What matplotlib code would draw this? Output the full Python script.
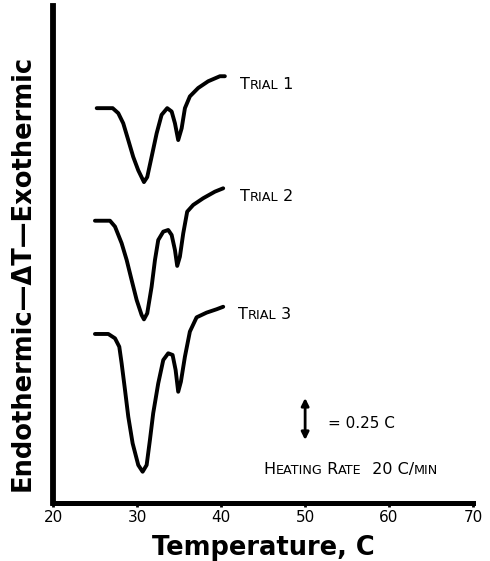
import matplotlib
matplotlib.use("Agg")
import matplotlib.pyplot as plt
from matplotlib import font_manager

# ---------------- data ----------------
trial1_temp = [25.17, 27.07, 27.74, 28.33, 28.93, 29.52, 30.12, 30.80, 31.19, 31.71, 32.31,
               32.90, 33.57, 34.10, 34.49, 34.88, 35.29, 35.68, 36.27, 37.26, 38.45, 39.85, 40.44]
trial1_dt = [2.35, 2.35, 2.32, 2.26, 2.16, 2.06, 1.98, 1.91, 1.94, 2.06, 2.20,
             2.31, 2.35, 2.33, 2.26, 2.16, 2.23, 2.35, 2.42, 2.47, 2.51, 2.54, 2.54]

trial2_temp = [24.96, 26.75, 27.35, 28.14, 28.74, 29.33, 29.93, 30.52, 30.80, 31.19, 31.71, 32.11,
               32.50, 33.10, 33.69, 34.10, 34.49, 34.76, 35.08, 35.48, 35.95, 36.67, 37.86, 39.25, 40.24]
trial2_dt = [1.68, 1.68, 1.645, 1.546, 1.446, 1.327, 1.208, 1.119, 1.093, 1.129, 1.287, 1.446,
             1.565, 1.615, 1.625, 1.595, 1.506, 1.411, 1.466, 1.605, 1.734, 1.774, 1.814, 1.853, 1.873]

trial3_temp = [24.96, 26.55, 27.35, 27.86, 28.14, 28.54, 28.93, 29.45, 30.12, 30.64, 31.12, 31.51,
               31.90, 32.50, 33.10, 33.69, 34.21, 34.57, 34.88, 35.20, 35.68, 36.27, 37.07, 38.26,
               39.45, 40.24]
trial3_dt = [1.006, 1.006, 0.980, 0.930, 0.831, 0.673, 0.514, 0.355, 0.226, 0.186, 0.226, 0.375,
             0.534, 0.712, 0.851, 0.891, 0.881, 0.792, 0.662, 0.722, 0.871, 1.020, 1.105, 1.133,
             1.153, 1.168]

trial_names = ["1", "2", "3"]
label_temp = [42.2, 42.2, 42.0]
label_dt = [2.50, 1.833, 1.131]

x_ticks = [20, 30, 40, 50, 60, 70]
scale_temp = 50.0
scale_low, scale_high = 0.375, 0.625
scale_text = "= 0.25 C"

# ---------------- fonts ----------------
available = {f.name for f in font_manager.fontManager.ttflist}
thin_font = "Liberation Sans Narrow" if "Liberation Sans Narrow" in available else "DejaVu Sans"
plt.rcParams["font.family"] = ["DejaVu Sans"]

fig = plt.figure(figsize=(4.9, 5.61), dpi=100)
ax = fig.add_axes([0.1088, 0.1034, 0.8565, 0.8859])
ax.set_xlim(20, 70)
ax.set_ylim(0, 2.958)

for s in ["top", "right"]:
    ax.spines[s].set_visible(False)
ax.spines["left"].set_linewidth(4.2)
ax.spines["bottom"].set_linewidth(3.6)
for s in ["left", "bottom"]:
    ax.spines[s].set_capstyle("projecting")

ax.set_yticks([])
ax.set_xticks(x_ticks)
ax.set_xticklabels([str(t) for t in x_ticks], fontfamily=thin_font, fontsize=11)
ax.tick_params(axis="x", direction="out", length=3, width=2, pad=2)

for xs, ys in [(trial1_temp, trial1_dt), (trial2_temp, trial2_dt), (trial3_temp, trial3_dt)]:
    ax.plot(xs, ys, color="black", lw=2.8, solid_joinstyle="round", solid_capstyle="round")


def caps_text(x, y, parts):
    """Draw text pieces in a row (used for small-caps lettering)."""
    first_txt, first_size = parts[0]
    prev = ax.text(x, y, first_txt, fontsize=first_size, fontfamily=thin_font,
                   ha="left", va="bottom")
    for txt, size in parts[1:]:
        prev = ax.annotate(txt, xy=(1, 0), xycoords=prev, fontsize=size,
                           fontfamily=thin_font, ha="left", va="bottom")
    return prev


for name, lx, ly in zip(trial_names, label_temp, label_dt):
    caps_text(lx, ly - 0.055, [("T", 11.5), ("RIAL", 9.3), (" " + name, 11.5)])

# scale arrow
ax.annotate("", xy=(scale_temp, scale_low), xytext=(scale_temp, scale_high),
            arrowprops=dict(arrowstyle="<|-|>", color="black", lw=2.0,
                            mutation_scale=11, shrinkA=0, shrinkB=0))
ax.text(52.7, 0.476, scale_text, fontsize=11, fontfamily=thin_font, ha="left", va="center")

caps_text(45.0, 0.155, [("H", 11.5), ("EATING", 9.2), (" R", 11.5), ("ATE", 9.2),
                        ("  20 C/", 11.5), ("MIN", 9.2)])

fig.text(0.047, 0.513, "Endothermic\u2014\u0394T\u2014Exothermic", rotation=90,
         fontsize=18.5, fontweight="bold", ha="center", va="center")
fig.text(0.537, 0.0107, "Temperature, C", fontsize=18.5, fontweight="bold",
         ha="center", va="baseline")

fig.savefig("out.png", dpi=100)
